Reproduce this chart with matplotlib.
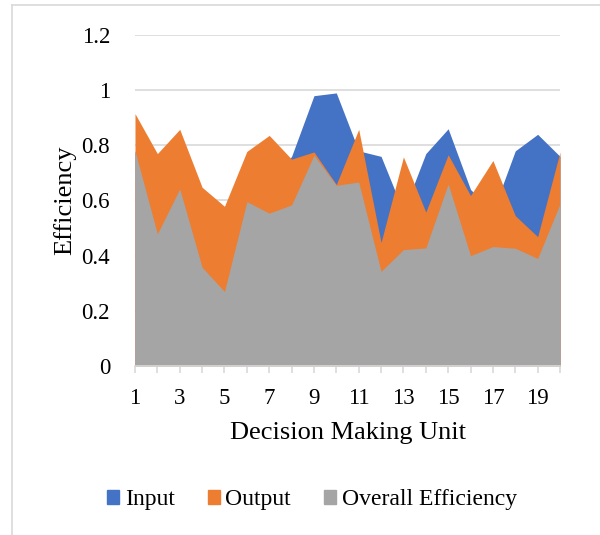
import matplotlib
matplotlib.use("Agg")
import matplotlib.pyplot as plt
from matplotlib.patches import Patch
from matplotlib.lines import Line2D

units = list(range(1, 21))
input_eff = [0.78, 0.48, 0.70, 0.55, 0.47, 0.77, 0.66, 0.76, 0.98, 0.99,
             0.78, 0.76, 0.56, 0.77, 0.86, 0.64, 0.56, 0.78, 0.84, 0.76]
output_eff = [0.915, 0.77, 0.858, 0.648, 0.579, 0.778, 0.836, 0.75, 0.776, 0.658,
              0.858, 0.448, 0.758, 0.558, 0.766, 0.618, 0.745, 0.545, 0.469, 0.776]
overall_eff = [0.78, 0.479, 0.642, 0.358, 0.27, 0.596, 0.554, 0.584, 0.764, 0.655,
               0.667, 0.343, 0.422, 0.428, 0.66, 0.40, 0.433, 0.427, 0.39, 0.588]
yticks = [0, 0.2, 0.4, 0.6, 0.8, 1, 1.2]
ytick_labels = ["0", "0.2", "0.4", "0.6", "0.8", "1", "1.2"]
xtick_labels = [str(u) if u % 2 == 1 else "" for u in units]

plt.rcParams['font.family'] = ['Liberation Serif', 'DejaVu Serif']

fig = plt.figure(figsize=(6.0, 5.35), dpi=100)
ax = fig.add_axes([135/600, 1-366/535, (560-135)/600, (366-35)/535])

blue = '#4472C4'
orange = '#ED7D31'
gray = '#A5A5A5'

ax.fill_between(units, 0, input_eff, color=blue, linewidth=0, zorder=2)
ax.fill_between(units, 0, output_eff, color=orange, linewidth=0, zorder=3)
ax.fill_between(units, 0, overall_eff, color=gray, linewidth=0, zorder=4)

ax.set_xlim(1, 20)
ax.set_ylim(0, 1.2)
ax.set_yticks(yticks)
ax.set_yticklabels(ytick_labels)
ax.set_xticks(units)
ax.set_xticklabels(xtick_labels)
ax.grid(axis='y', color='#D9D9D9', linewidth=1.2, zorder=1)
ax.set_axisbelow(True)
for s in ['top', 'right', 'left']:
    ax.spines[s].set_visible(False)
ax.spines['bottom'].set_color('#D9D9D9')
ax.spines['bottom'].set_linewidth(1.2)
ax.spines['bottom'].set_zorder(5)
ax.tick_params(axis='y', length=0, pad=18, labelsize=16.5)
ax.tick_params(axis='x', length=5, color='#D9D9D9', width=1.2, pad=11, labelsize=16.5)

ax.set_xlabel('Decision Making Unit', fontsize=19)
ax.xaxis.set_label_coords(0.5, (366-433)/331)
ax.xaxis.label.set_va('center')
ax.set_ylabel('Efficiency', fontsize=19)
ax.yaxis.set_label_coords((65-135)/425, 0.5)
ax.yaxis.label.set_va('center')

handles = [Patch(color=blue, label='Input'),
           Patch(color=orange, label='Output'),
           Patch(color=gray, label='Overall Efficiency')]
fig.legend(handles=handles, loc='center', bbox_to_anchor=(312/600, 1-500/535),
           ncol=3, frameon=False, fontsize=17, handlelength=0.5, handleheight=0.5,
           handletextpad=0.25, columnspacing=1.4)

# chart area border (partially visible)
fig.add_artist(Line2D([12/600, 1], [1-5/535, 1-5/535], color='#D9D9D9', linewidth=1.2,
                      transform=fig.transFigure))
fig.add_artist(Line2D([12/600, 12/600], [0, 1-5/535], color='#D9D9D9', linewidth=1.2,
                      transform=fig.transFigure))

fig.savefig('out.png', dpi=100)
